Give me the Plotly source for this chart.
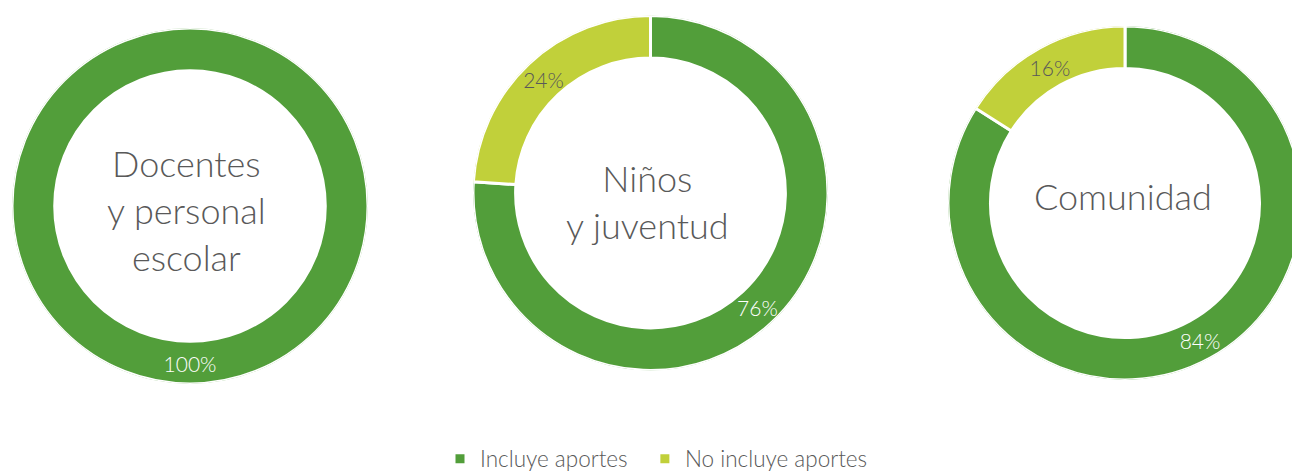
import plotly.graph_objects as go

W, H = 1310, 473

labels = ["Incluye aportes", "No incluye aportes"]
groups = ["Docentes<br>y personal<br>escolar", "Niños<br>y juventud", "Comunidad"]
incluye = [100, 76, 84]
no_incluye = [0, 24, 16]

colors = ["#529E3A", "#C1D03A"]
text_colors = ["#FFFFFF", "#595959"]

# donut geometry in pixels (center x, center y from top, radius)
centers = [(190, 206, 178), (650.5, 193, 177.5), (1125, 203, 177)]
title_pos = [(186, 210), (647, 202), (1123, 196)]
HOLE = 0.76
TEXT_DROP = 4  # px

FONT = "Lato"

fig = go.Figure()
layout_polars = {}
for i, g in enumerate(groups):
    cx, cy, r = centers[i]
    series = [incluye, no_incluye]
    vals = [s[i] for s in series]
    dom = dict(x=[(cx - r) / W, (cx + r) / W],
               y=[(H - cy - r) / H, (H - cy + r) / H])
    dom_t = dict(x=dom["x"], y=[(H - cy - TEXT_DROP - r) / H, (H - cy - TEXT_DROP + r) / H])
    pid = "polar" if i == 0 else f"polar{i + 1}"
    tid = f"polar{i + 4}"
    total = sum(vals)
    cum = 0
    thetas, texts, tcols = [], [], []
    for k, v in enumerate(vals):
        mid = 360 * (cum + v / 2) / total
        span = 360 * v / total
        fig.add_trace(go.Barpolar(
            r=[1 - HOLE], base=[HOLE], theta=[mid], width=[span],
            name=labels[k] + ("\u00a0\u00a0" if k == 0 else ""), legendgroup=labels[k],
            marker=dict(color=colors[k], line=dict(color="white", width=3)),
            showlegend=(i == 1), subplot=pid,
            hovertemplate=f"{labels[k]}: {round(100 * v / total)}%<extra></extra>",
        ))
        if v > 0:
            thetas.append(mid)
            texts.append(f"{round(100 * v / total)}%")
            tcols.append(text_colors[k])
        cum += v
    fig.add_trace(go.Scatterpolar(
        r=[(1 + HOLE) / 2] * len(thetas), theta=thetas, mode="text", text=texts,
        textposition="middle center",
        textfont=dict(color=tcols, size=21, family=FONT, weight=300),
        hoverinfo="skip", showlegend=False, subplot=tid,
    ))
    for key, d in ((pid, dom), (tid, dom_t)):
        layout_polars[key] = dict(
            domain=d, bgcolor="rgba(0,0,0,0)",
            radialaxis=dict(visible=False, range=[0, 1], showgrid=False, showline=False),
            angularaxis=dict(visible=False, rotation=90, direction="clockwise",
                             showgrid=False, showline=False),
        )
    fig.add_annotation(
        x=title_pos[i][0] / W, y=(H - title_pos[i][1]) / H, xref="paper", yref="paper",
        text=g, showarrow=False, xanchor="center", yanchor="middle",
        font=dict(size=36, color="#595959", family=FONT, weight=300),
    )

fig.update_layout(
    width=W, height=H,
    margin=dict(l=0, r=0, t=0, b=0, autoexpand=False),
    paper_bgcolor="white", plot_bgcolor="white",
    barmode="overlay",
    legend=dict(orientation="h", x=656.5 / W, xanchor="center", y=-0.016, yanchor="bottom",
                font=dict(size=22.5, color="#595959", family=FONT, weight=300),
                traceorder="normal"),
    **layout_polars,
)

fig.write_html("out.html", config={"displayModeBar": False},
               post_script="document.body.style.overflow='hidden';document.body.style.margin='0';")
